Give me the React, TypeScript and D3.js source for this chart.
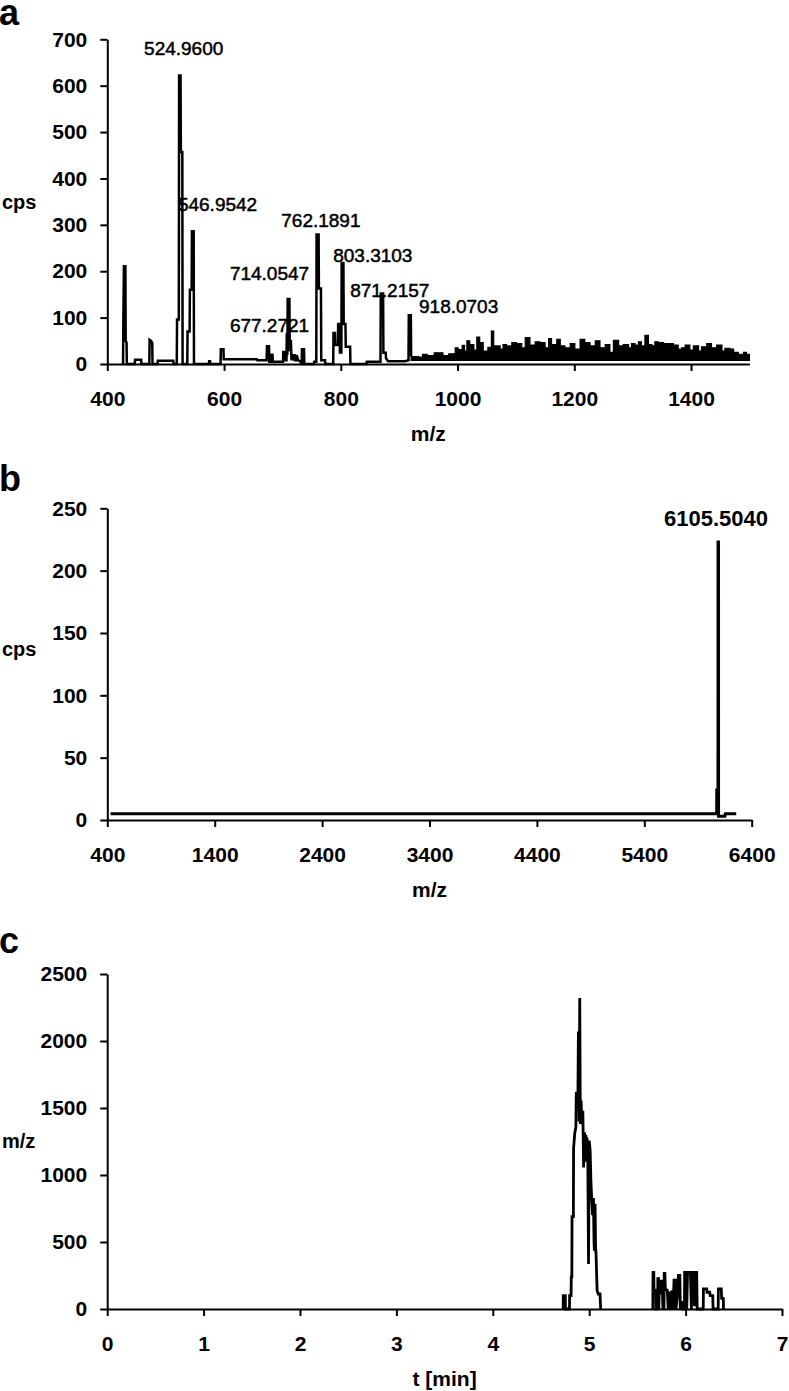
import { useEffect, useRef } from 'react';
import * as d3 from 'd3';

type Pt = [number, number];

const W = 789;
const H = 1391;
const FONT = '"Liberation Sans", Arial, Helvetica, sans-serif';

// ---- panel a: ESI spectrum (m/z vs cps)
const specA: Pt[] = [
  [427, 0], [427.5, 98], [428.5, 211], [431, 211], [431.5, 50], [433, 46], [433.5, 0],
  [447, 0], [447.5, 9], [458, 9], [458.5, 0],
  [472, 0], [472.5, 52], [475, 50], [477, 45], [477.5, 0],
  [486, 0], [486.5, 7], [513, 7], [513.5, 0],
  [519, 0], [519.5, 96], [522.5, 96], [523, 622], [525.5, 622], [526, 457], [528.5, 457], [529, 0],
  [537, 0], [537.5, 70], [541, 70], [541.5, 160], [544.5, 160], [545, 286], [548, 286], [548.5, 0],
  [574, 0], [574.5, 6], [576, 6], [576.5, 0],
  [594, 0], [594.5, 32], [599, 32], [599.5, 10], [656, 10], [657, 8], [673, 8],
  [673.5, 38], [677, 38], [677.5, 5], [680, 5], [680.5, 20], [683, 20], [683.5, 5],
  [701, 5], [701.5, 26], [705, 26], [705.5, 8], [707, 8], [707.5, 67], [708.5, 20],
  [709, 140], [712, 140], [712.5, 30], [714, 30], [714.5, 52], [715.5, 10],
  [718, 10], [718.5, 19], [721, 19], [721.5, 8], [724, 8], [724.5, 19], [727, 8], [731, 5], [733, 0],
  [733.5, 32], [737, 32], [737.5, 0],
  [754, 0], [754.5, 5], [758, 5], [758.5, 279], [762, 279], [762.5, 163], [766, 163], [766.5, 8], [773, 8], [773.5, 0],
  [787, 0], [787.5, 67], [790, 67], [790.5, 41], [795, 41], [795.5, 86], [798, 86], [798.5, 25], [801, 25],
  [801.5, 218], [804.5, 218], [805, 86], [808, 86], [808.5, 37], [816, 37], [816.5, 0],
  [844, 0], [844.5, 5], [868, 5], [868.5, 152], [872.5, 152], [873, 24], [877, 24], [877.5, 12], [881, 6], [910, 6],
  [916, 8], [916.5, 105], [920, 105], [920.5, 16],
];

// top of the dense noise band above m/z 920 (step values)
const noiseA: Pt[] = [
  [920.5, 16], [933, 15], [940, 21], [948, 18], [960, 24], [975, 18], [985, 22],
  [996, 35], [1001, 31], [1008, 40], [1012, 28], [1016, 50], [1021, 42], [1028, 30],
  [1033, 58], [1038, 46], [1044, 28], [1052, 36], [1058, 71], [1062, 39], [1073, 32],
  [1078, 42], [1084, 39], [1093, 46], [1101, 44], [1110, 35], [1116, 57], [1124, 41],
  [1133, 48], [1141, 46], [1150, 35], [1156, 55], [1161, 42], [1170, 53], [1176, 39],
  [1184, 35], [1193, 44], [1201, 32], [1210, 53], [1218, 46], [1227, 39], [1236, 50],
  [1244, 35], [1253, 42], [1261, 25], [1267, 51], [1276, 39], [1284, 42], [1293, 35],
  [1298, 44], [1304, 41], [1310, 48], [1315, 39], [1321, 62], [1327, 42], [1333, 39],
  [1338, 48], [1344, 46], [1353, 44], [1361, 44], [1370, 41], [1378, 32], [1384, 35],
  [1390, 41], [1398, 30], [1404, 39], [1413, 28], [1418, 37], [1427, 44], [1435, 35],
  [1444, 41], [1453, 28], [1458, 34], [1467, 32], [1473, 25], [1481, 21], [1490, 25],
  [1495, 21], [1500, 21],
];
const noiseFloorA = 8;

// label text, left edge m/z, baseline cps
const labelsA: [string, number, number][] = [
  ['524.9600', 463, 666],
  ['546.9542', 521, 330],
  ['762.1891', 698, 295],
  ['714.0547', 610, 181],
  ['677.2721', 610, 69],
  ['803.3103', 787, 219],
  ['871.2157', 816, 144],
  ['918.0703', 934, 109],
];
const ticksAx = [400, 600, 800, 1000, 1200, 1400];
const ticksAy = [0, 100, 200, 300, 400, 500, 600, 700];

// ---- panel b: deconvoluted spectrum
const specB: Pt[] = [
  [430, 5], [6074, 5], [6074.5, 24], [6086, 24], [6086.5, 223], [6091, 223], [6091.5, 3],
  [6150, 3], [6155, 5], [6256, 5],
];
const labelsB: [string, number, number][] = [['6105.5040', 5583, 236]];
const ticksBx = [400, 1400, 2400, 3400, 4400, 5400, 6400];
const ticksBy = [0, 50, 100, 150, 200, 250];

// ---- panel c: extracted ion chromatogram (two separate traces)
const chromC: Pt[] = [
  [4.73, 0], [4.731, 100], [4.752, 100], [4.754, 0], [4.795, 0], [4.797, 100], [4.812, 100],
  [4.814, 240], [4.82, 240], [4.822, 690], [4.836, 690], [4.838, 1200], [4.85, 1310],
  [4.862, 1360], [4.866, 1610], [4.878, 1610], [4.882, 1500], [4.888, 2070], [4.895, 1400],
  [4.902, 2320], [4.908, 1380], [4.916, 1555], [4.924, 1400], [4.934, 1480], [4.942, 1057],
  [4.952, 1318], [4.958, 1100], [4.965, 1300], [4.971, 1181], [4.976, 1281], [4.985, 1200],
  [4.993, 336], [5.0, 1256], [5.01, 1181], [5.018, 950], [5.027, 808], [5.035, 700],
  [5.044, 829], [5.05, 500], [5.054, 435], [5.061, 785], [5.066, 460], [5.071, 412],
  [5.082, 137], [5.095, 112], [5.112, 112], [5.119, 0],
];
const clusterC: Pt[] = [
  [5.66, 0], [5.662, 273], [5.67, 273], [5.672, 140], [5.69, 140], [5.692, 0], [5.697, 0],
  [5.699, 140], [5.708, 140], [5.71, 0],
  [5.712, 226], [5.72, 226], [5.722, 0], [5.727, 146], [5.74, 146], [5.744, 208], [5.75, 208],
  [5.755, 120], [5.76, 120], [5.765, 0], [5.77, 100], [5.776, 0], [5.778, 265], [5.785, 265], [5.79, 150],
  [5.81, 140], [5.82, 0], [5.83, 120], [5.846, 120], [5.85, 0], [5.858, 130], [5.866, 130], [5.87, 0], [5.88, 215],
  [5.895, 215], [5.9, 0], [5.915, 100], [5.925, 250], [5.94, 250], [5.945, 0], [5.955, 50],
  [5.965, 50], [5.97, 0], [5.988, 0], [5.99, 273], [6.01, 273], [6.012, 0], [6.02, 273],
  [6.05, 273], [6.06, 0], [6.07, 273], [6.09, 273], [6.092, 20], [6.095, 273],
  [6.115, 273], [6.12, 0], [6.183, 0], [6.185, 150], [6.22, 150], [6.222, 125], [6.25, 125],
  [6.255, 100], [6.282, 100], [6.285, 0], [6.338, 0], [6.34, 150], [6.37, 150], [6.374, 80],
  [6.391, 80], [6.393, 0],
];
const ticksCx = [0, 1, 2, 3, 4, 5, 6, 7];
const ticksCy = [0, 500, 1000, 1500, 2000, 2500];

interface Panel {
  letter: string;
  letterY: number;
  xDomain: [number, number];
  xRange: [number, number];
  yDomain: [number, number];
  yRange: [number, number];
  xTicks: number[];
  yTicks: number[];
  yTitle: string;
  yTitleY: number;
  xTitle: string;
}

function drawPanel(svg: any, p: Panel) {
  const x = d3.scaleLinear().domain(p.xDomain).range(p.xRange);
  const y = d3.scaleLinear().domain(p.yDomain).range(p.yRange);
  const g = svg.append('g');

  g.append('text')
    .attr('x', -1)
    .attr('y', p.letterY)
    .attr('font-size', 36)
    .attr('font-weight', 'bold')
    .text(p.letter);

  const xa = g.append('g')
    .attr('transform', `translate(0,${y(0)})`)
    .call(d3.axisBottom(x).tickValues(p.xTicks).tickSize(7).tickSizeOuter(0).tickPadding(20).tickFormat(d3.format('d')));
  const ya = g.append('g')
    .attr('transform', `translate(${x(p.xDomain[0])},0)`)
    .call(d3.axisLeft(y).tickValues(p.yTicks).tickSize(7).tickSizeOuter(0).tickPadding(13).tickFormat(d3.format('d')));

  [xa, ya].forEach((a) => {
    a.attr('font-family', FONT).attr('font-size', 21).attr('font-weight', 'bold');
    a.selectAll('path, line').attr('stroke', '#000').attr('stroke-width', 2);
    a.selectAll('text').attr('fill', '#000');
  });

  g.append('text')
    .attr('x', 2)
    .attr('y', p.yTitleY)
    .attr('font-size', 20)
    .attr('font-weight', 'bold')
    .text(p.yTitle);

  g.append('text')
    .attr('x', (p.xRange[0] + p.xRange[1]) / 2)
    .attr('y', y(0) + 77)
    .attr('text-anchor', 'middle')
    .attr('font-size', 21)
    .attr('font-weight', 'bold')
    .text(p.xTitle);

  return { g, x, y };
}

export default function App() {
  const svgRef = useRef<SVGSVGElement>(null);

  useEffect(() => {
    document.body.style.margin = '0';
    const svg = d3.select(svgRef.current);
    svg.selectAll('*').remove();
    svg.attr('font-family', FONT);

    // a
    const a = drawPanel(svg, {
      letter: 'a', letterY: 25,
      xDomain: [400, 1500], xRange: [107.3, 749.4],
      yDomain: [0, 700], yRange: [364, 39.3],
      xTicks: ticksAx, yTicks: ticksAy,
      yTitle: 'cps', yTitleY: 209, xTitle: 'm/z',
    });
    const lineA = d3.line<Pt>().x((d) => a.x(d[0])).y((d) => a.y(d[1]));
    a.g.append('path')
      .datum(specA)
      .attr('fill', 'none')
      .attr('stroke', '#000')
      .attr('stroke-width', 2.5)
      .attr('d', lineA);
    const bandA = d3.area<Pt>()
      .curve(d3.curveStepAfter)
      .x((d) => a.x(d[0]))
      .y0(a.y(noiseFloorA))
      .y1((d) => a.y(d[1]));
    a.g.append('path')
      .datum(noiseA)
      .attr('fill', '#000')
      .attr('stroke', '#000')
      .attr('stroke-width', 1.2)
      .attr('d', bandA);
    a.g.selectAll('text.pk')
      .data(labelsA)
      .enter()
      .append('text')
      .attr('class', 'pk')
      .attr('x', (d) => a.x(d[1]))
      .attr('y', (d) => a.y(d[2]))
      .attr('font-size', 19)
      .attr('stroke', '#000')
      .attr('stroke-width', 0.5)
      .text((d) => d[0]);

    // b
    const b = drawPanel(svg, {
      letter: 'b', letterY: 491,
      xDomain: [400, 6400], xRange: [107.3, 751.7],
      yDomain: [0, 250], yRange: [820, 508.3],
      xTicks: ticksBx, yTicks: ticksBy,
      yTitle: 'cps', yTitleY: 656, xTitle: 'm/z',
    });
    b.g.append('path')
      .datum(specB)
      .attr('fill', 'none')
      .attr('stroke', '#000')
      .attr('stroke-width', 3)
      .attr('d', d3.line<Pt>().x((d) => b.x(d[0])).y((d) => b.y(d[1])));
    b.g.selectAll('text.pk')
      .data(labelsB)
      .enter()
      .append('text')
      .attr('class', 'pk')
      .attr('x', (d) => b.x(d[1]))
      .attr('y', (d) => b.y(d[2]))
      .attr('font-size', 22)
      .attr('font-weight', 'bold')
      .text((d) => d[0]);

    // c
    const c = drawPanel(svg, {
      letter: 'c', letterY: 953,
      xDomain: [0, 7], xRange: [107.2, 782],
      yDomain: [0, 2500], yRange: [1309, 974],
      xTicks: ticksCx, yTicks: ticksCy,
      yTitle: 'm/z', yTitleY: 1148, xTitle: 't [min]',
    });
    const lineC = d3.line<Pt>().x((d) => c.x(d[0])).y((d) => c.y(d[1]));
    [chromC, clusterC].forEach((s) => {
      c.g.append('path')
        .datum(s)
        .attr('fill', 'none')
        .attr('stroke', '#000')
        .attr('stroke-width', 2.8)
        .attr('d', lineC);
    });
  }, []);

  return (
    <svg
      ref={svgRef}
      width={W}
      height={H}
      style={{ position: 'absolute', left: 0, top: 0, display: 'block', background: '#fff' }}
    />
  );
}
